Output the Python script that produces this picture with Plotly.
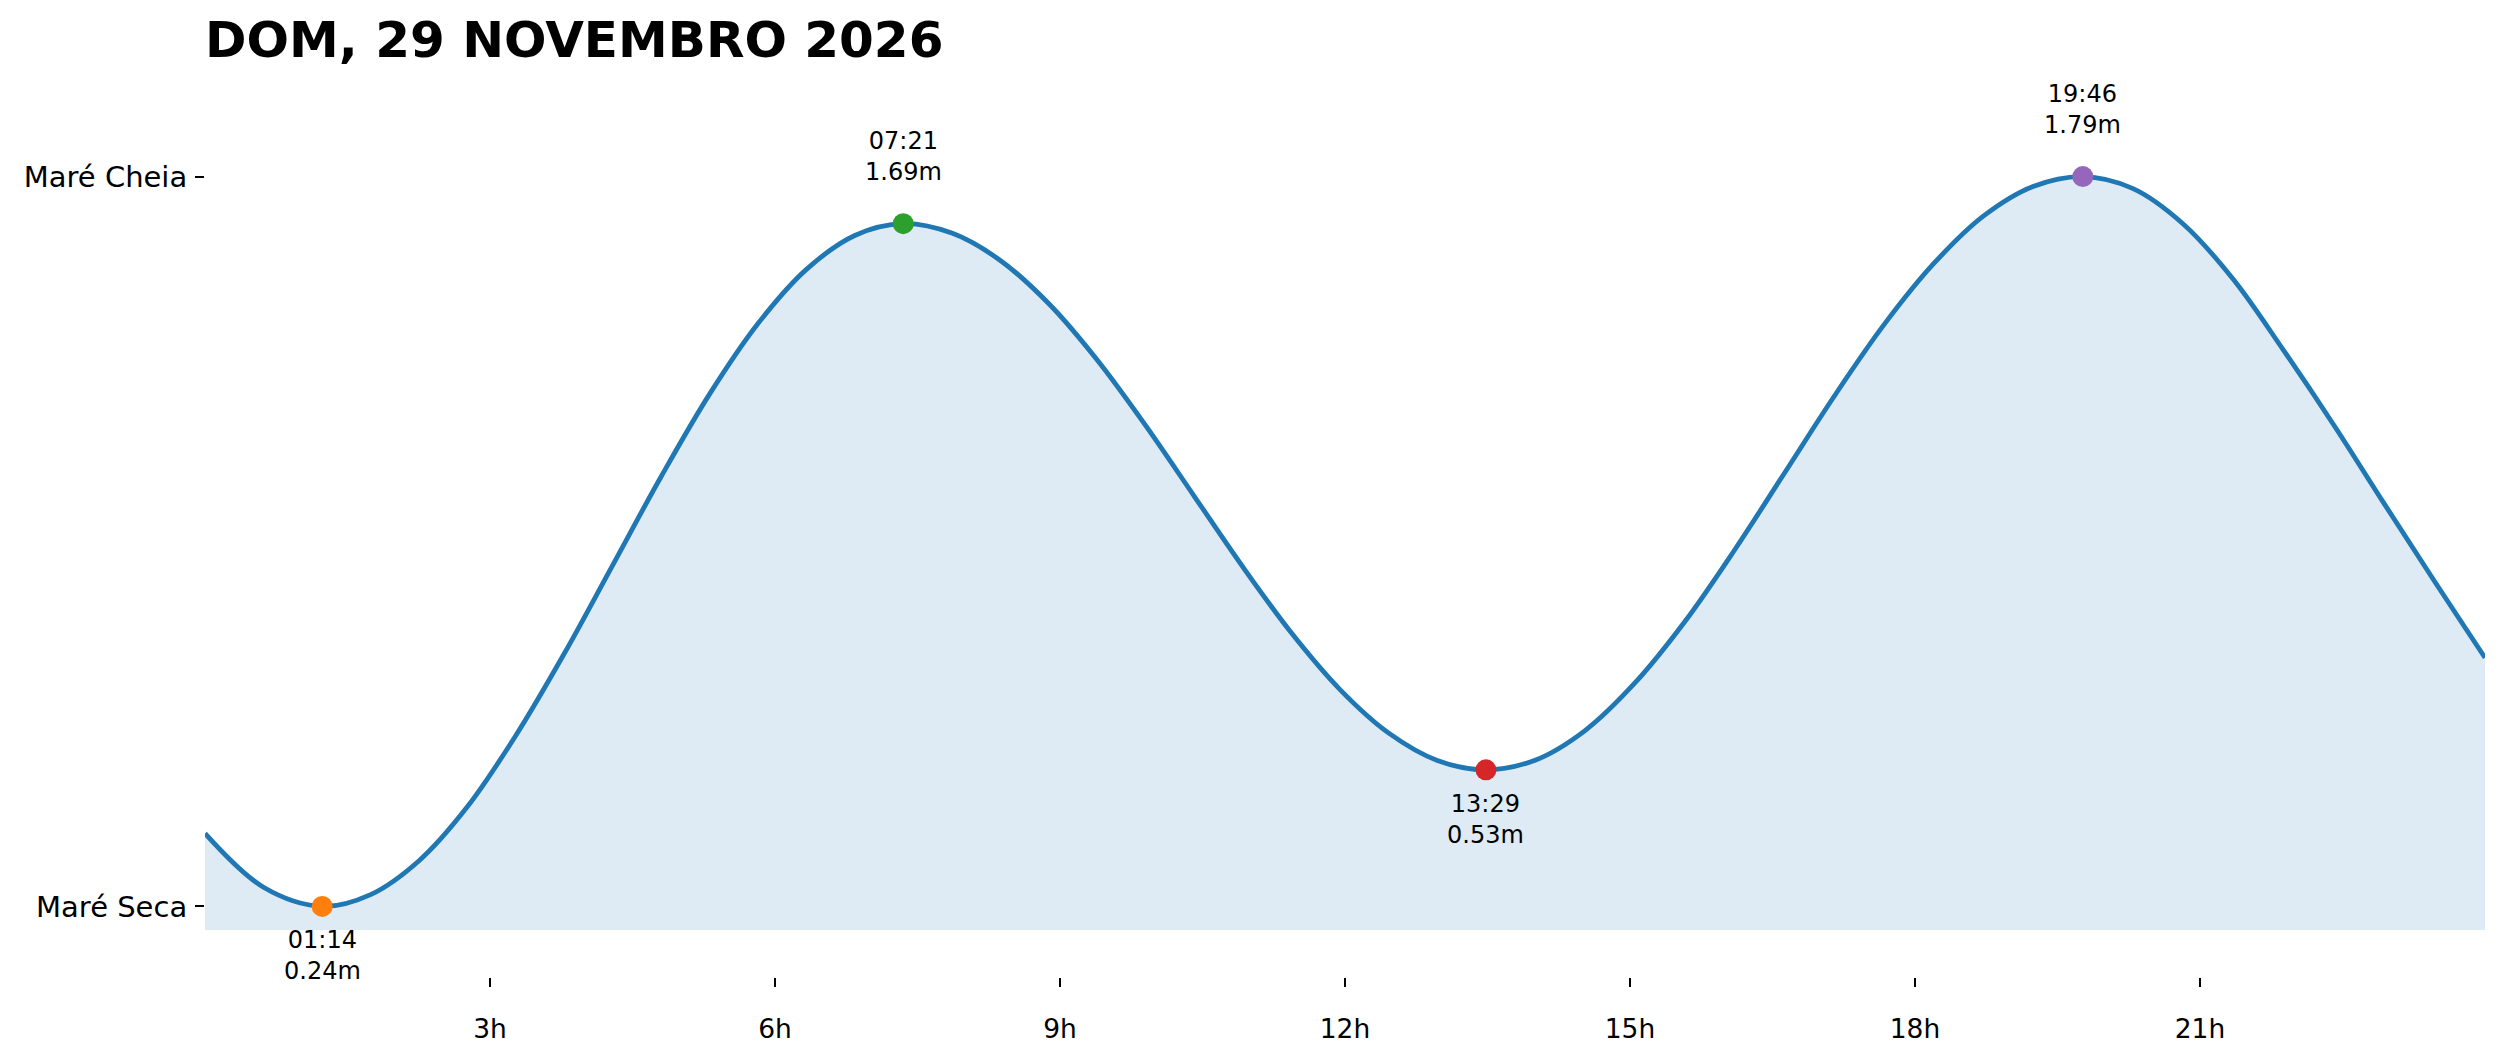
#!/usr/bin/env python
# coding=utf-8
"""
Gráfico de marés de um dia - curva da altura da água com preia-mar e baixa-mar
"""

import plotly.graph_objects as go

# Dados
TITLE = "DOM, 29 NOVEMBRO 2026"

# Altura da água ao longo do dia (horas, metros) (~meia hora)
HOURS = [0.0, 0.62,
         1.743, 2.253, 2.763, 3.272, 3.782, 4.292, 4.802, 5.311, 5.821, 6.331, 6.840,
         7.861, 8.372, 8.883, 9.394, 9.906, 10.417, 10.928, 11.439, 11.950, 12.461, 12.972,
         14.007, 14.530, 15.054, 15.578, 16.101, 16.625, 17.148, 17.672, 18.196, 18.719, 19.243,
         20.29, 20.82, 21.35, 21.88, 22.41, 22.94, 23.47, 24.0]
LEVELS = [0.395, 0.280,
          0.265, 0.337, 0.452, 0.603, 0.777, 0.965, 1.153, 1.328, 1.478, 1.593, 1.665,
          1.670, 1.612, 1.520, 1.400, 1.260, 1.110, 0.960, 0.820, 0.700, 0.608, 0.550,
          0.551, 0.614, 0.715, 0.845, 0.997, 1.160, 1.323, 1.475, 1.605, 1.706, 1.769,
          1.765, 1.690, 1.572, 1.421, 1.262, 1.095, 0.930, 0.768]

# Extremos da maré
EXTREME_TIMES = ["01:14", "07:21", "13:29", "19:46"]
EXTREME_HEIGHTS = [0.24, 1.69, 0.53, 1.79]
EXTREME_KIND = ["low", "high", "low", "high"]
EXTREME_COLORS = ["#ff7f0e", "#2ca02c", "#d62728", "#9467bd"]

# Base do preenchimento
FILL_BASE = 0.19

X_TICKS = [3, 6, 9, 12, 15, 18, 21]
Y_TICK_TEXT = ["Maré Seca", "Maré Cheia"]

FONT = "DejaVu Sans"


def to_hours(hhmm):
    h, m = hhmm.split(":")
    return int(h) + int(m) / 60.0


extreme_hours = [to_hours(t) for t in EXTREME_TIMES]

# junta as amostras com os extremos, ordenado pelo tempo
points = sorted(list(zip(HOURS, LEVELS)) + list(zip(extreme_hours, EXTREME_HEIGHTS)))
curve_x = [p[0] for p in points]
curve_y = [p[1] for p in points]

fig = go.Figure()

# linha de base invisível para o preenchimento
fig.add_trace(go.Scatter(
    x=[HOURS[0], HOURS[-1]], y=[FILL_BASE, FILL_BASE],
    mode="lines", line=dict(width=0, color="rgba(0,0,0,0)"),
    hoverinfo="skip", showlegend=False
))

# curva da maré
fig.add_trace(go.Scatter(
    x=curve_x, y=curve_y,
    mode="lines",
    line=dict(color="#1f77b4", width=4.8, shape="spline", smoothing=1.0),
    fill="tonexty", fillcolor="rgba(31,119,180,0.15)",
    hoverinfo="skip", showlegend=False
))

# pontos dos extremos
fig.add_trace(go.Scatter(
    x=extreme_hours, y=EXTREME_HEIGHTS,
    mode="markers",
    marker=dict(color=EXTREME_COLORS, size=21, line=dict(width=0)),
    cliponaxis=False, hoverinfo="skip", showlegend=False
))

# rótulos hora / altura
for hx, hy, label, kind in zip(extreme_hours, EXTREME_HEIGHTS, EXTREME_TIMES, EXTREME_KIND):
    fig.add_annotation(
        x=hx, y=hy, xref="x", yref="y",
        text=f"{label}<br>{hy:.2f}m",
        showarrow=False,
        font=dict(family=FONT, size=24, color="black"),
        xanchor="center",
        yanchor="bottom" if kind == "high" else "top",
        yshift=36 if kind == "high" else -18,
    )

# a página tem 8px de margem no body, por isso as margens estão deslocadas
fig.update_layout(
    width=2501, height=1062,
    paper_bgcolor="white", plot_bgcolor="white",
    margin=dict(l=197, r=24, t=98, b=93),
    title=dict(
        text=f"<b>{TITLE}</b>",
        font=dict(family=FONT, size=50, color="black"),
        x=0, xref="paper", xanchor="left",
        y=1 - 14 / 1062, yref="container", yanchor="top",
    ),
    showlegend=False,
)

fig.update_xaxes(
    range=[0, 24],
    tickvals=X_TICKS, ticktext=[f"{h}h" for h in X_TICKS],
    ticks="outside", ticklen=9, tickwidth=2, tickcolor="black",
    ticklabelstandoff=19,
    tickfont=dict(family=FONT, size=26.5, color="black"),
    showgrid=False, zeroline=False, showline=False,
)

fig.update_yaxes(
    range=[0.09, 1.94],
    tickvals=[min(EXTREME_HEIGHTS), max(EXTREME_HEIGHTS)], ticktext=Y_TICK_TEXT,
    ticks="outside", ticklen=9, tickwidth=2, tickcolor="black",
    ticklabelstandoff=2,
    tickfont=dict(family=FONT, size=29, color="black"),
    showgrid=False, zeroline=False, showline=False,
)

fig.write_html("out.html")
